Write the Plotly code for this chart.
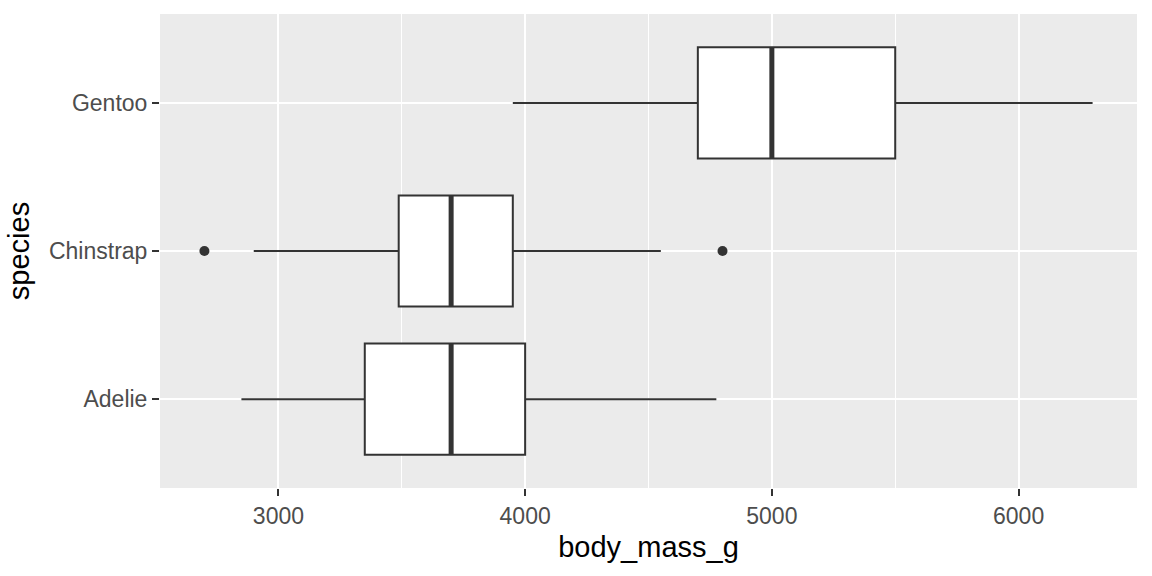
import plotly.graph_objects as go

# penguin body mass summary
species = ["Adelie", "Chinstrap", "Gentoo"]
q1 = [3350, 3487.5, 4700]
median = [3700, 3700, 5000]
q3 = [4000, 3950, 5500]
lower = [2850, 2900, 3950]
upper = [4775, 4550, 6300]
outlier_species = ["Chinstrap", "Chinstrap"]
outlier_mass = [2700, 4800]

pos = list(range(1, len(species) + 1))
box_w = 0.75
ink = "#333333"
font = "Liberation Sans, Arial, sans-serif"

fig = go.Figure()

fig.add_trace(go.Box(
    y=pos, q1=q1, median=median, q3=q3,
    lowerfence=lower, upperfence=upper,
    orientation="h", width=box_w, whiskerwidth=0,
    fillcolor="white", line=dict(color=ink, width=2),
    boxpoints=False, hoverinfo="skip",
))

# thicker median bar like ggplot's fatten=2
mx, my = [], []
for p, m in zip(pos, median):
    mx += [m, m, None]
    my += [p - box_w / 2, p + box_w / 2, None]
fig.add_trace(go.Scatter(x=mx, y=my, mode="lines",
                         line=dict(color=ink, width=5), hoverinfo="skip"))

fig.add_trace(go.Scatter(
    x=outlier_mass, y=[pos[species.index(s)] for s in outlier_species],
    mode="markers", marker=dict(color=ink, size=10),
))

fig.update_layout(
    width=1152, height=576,
    margin=dict(l=160, r=15, t=14, b=88),
    paper_bgcolor="white", plot_bgcolor="#EBEBEB",
    showlegend=False,
    font=dict(family=font, size=23, color="#4D4D4D"),
)

fig.update_xaxes(
    range=[2520, 6480], tickvals=[3000, 4000, 5000, 6000],
    showgrid=True, gridcolor="white", gridwidth=2,
    minor=dict(dtick=500, tick0=2500, showgrid=True, gridcolor="white", gridwidth=1),
    zeroline=False, showline=False,
    ticks="outside", ticklen=7, tickwidth=2, tickcolor=ink,
    tickfont=dict(size=23, color="#4D4D4D"),
    title=dict(text="body_mass_g", font=dict(size=29, color="black"), standoff=9),
    automargin=False,
)
fig.update_yaxes(
    range=[0.4, 3.6], tickvals=pos, ticktext=species,
    showgrid=True, gridcolor="white", gridwidth=2,
    zeroline=False, showline=False,
    ticks="outside", ticklen=7, tickwidth=2, tickcolor=ink,
    tickfont=dict(size=23, color="#4D4D4D"),
    title=dict(text="species", font=dict(size=29, color="black"), standoff=10),
    automargin=False,
)

fig.write_html("out.html", config={"displayModeBar": False},
               post_script="document.body.style.margin='0';")
